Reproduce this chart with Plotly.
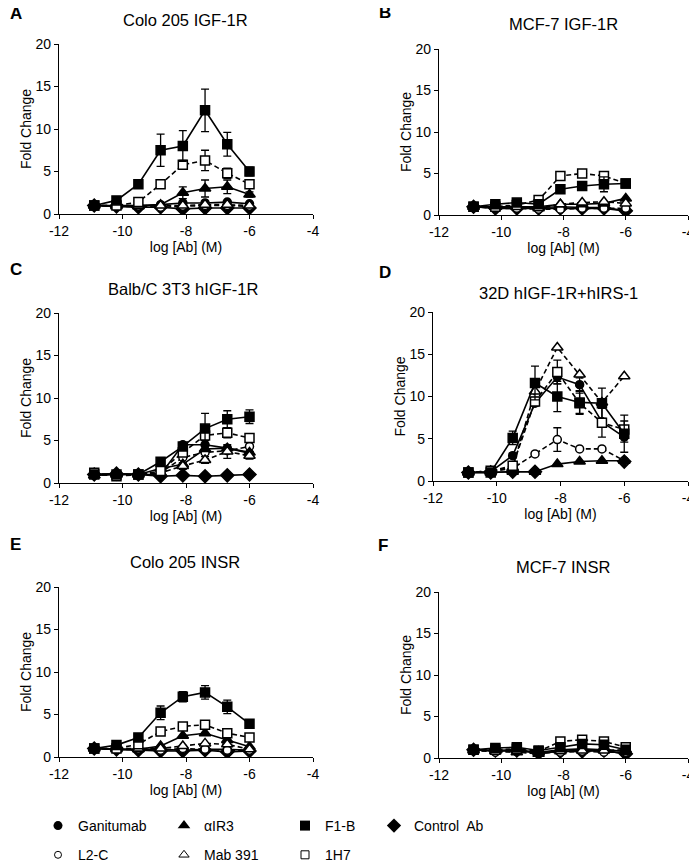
import plotly.graph_objects as go

# The page body has an 8px default margin; positions below are page pixels
OFF = 8
W, H = 689, 864
FONT = "Liberation Sans, Arial, sans-serif"

# log dose (M)
log_ab = [-10.89, -10.19, -9.50, -8.80, -8.10, -7.40, -6.70, -6.00]

series_names = ["Ganitumab", "L2-C", "αIR3", "Mab 391", "F1-B", "1H7", "Control  Ab"]

panel_titles = ["Colo 205 IGF-1R", "MCF-7 IGF-1R", "Balb/C 3T3 hIGF-1R",
                "32D hIGF-1R+hIRS-1", "Colo 205 INSR", "MCF-7 INSR"]
panel_letters = ["A", "B", "C", "D", "E", "F"]

x_ticks = [-12, -10, -8, -6, -4]
x_tick_labels = ["-12", "-10", "-8", "-6", "-4"]
y_ticks = [0, 5, 10, 15, 20]

# ---- Panel A: Colo 205 IGF-1R ----
A_gan = [1.0, 1.0, 1.0, 1.1, 1.3, 1.3, 1.4, 1.2]
A_l2c = [1.0, 0.9, 0.9, 0.8, 0.9, 1.0, 1.0, 0.9]
A_air3 = [1.0, 0.9, 0.9, 1.1, 2.5, 3.0, 3.2, 2.3]
A_mab = [1.0, 1.0, 1.0, 1.0, 1.0, 1.1, 1.1, 1.0]
A_f1b = [1.0, 1.6, 3.5, 7.5, 8.0, 12.2, 8.2, 5.0]
A_1h7 = [1.0, 1.0, 1.4, 3.5, 5.8, 6.3, 4.8, 3.5]
A_ctl = [1.0, 0.9, 0.8, 0.8, 0.6, 0.7, 0.7, 0.7]
A_err_f1b = [0, 0, 0, 1.9, 1.8, 2.5, 1.4, 0.5]
A_err_1h7 = [0, 0, 0, 0, 0.5, 1.2, 0.6, 0.3]
A_err_air3 = [0, 0, 0, 0, 0.7, 1.0, 0.8, 0.3]

# ---- Panel B: MCF-7 IGF-1R ----
B_gan = [1.0, 0.9, 0.9, 0.9, 1.0, 0.9, 0.9, 0.5]
B_l2c = [1.0, 0.8, 0.8, 0.7, 0.7, 0.8, 0.8, 0.8]
B_air3 = [1.0, 1.0, 1.0, 1.0, 1.3, 1.3, 1.4, 2.0]
B_mab = [1.0, 1.0, 1.0, 0.8, 1.3, 1.5, 1.6, 1.4]
B_f1b = [1.0, 1.3, 1.5, 1.3, 3.1, 3.5, 3.7, 3.8]
B_1h7 = [1.0, 1.0, 1.2, 1.8, 4.7, 5.0, 4.7, 3.8]
B_ctl = [1.0, 0.8, 0.8, 0.8, 0.8, 0.8, 0.8, 0.5]
B_err_f1b = [0, 0, 0, 0, 0.3, 0.3, 0.9, 0.3]
B_err_1h7 = [0, 0, 0, 0, 0.3, 0.3, 0.3, 0.3]

# ---- Panel C: Balb/C 3T3 hIGF-1R ----
C_gan = [1.0, 1.1, 1.0, 1.0, 4.5, 4.5, 4.1, 3.5]
C_l2c = [1.0, 0.9, 1.0, 1.2, 3.0, 3.6, 3.8, 4.3]
C_air3 = [0.9, 1.0, 1.0, 1.7, 2.2, 4.0, 4.1, 3.6]
C_mab = [0.9, 1.0, 1.0, 1.2, 2.0, 2.7, 3.7, 3.2]
C_f1b = [1.0, 1.0, 1.0, 2.5, 4.3, 6.4, 7.5, 7.8]
C_1h7 = [1.2, 0.8, 1.0, 1.4, 3.6, 5.6, 5.9, 5.3]
C_ctl = [1.0, 1.1, 1.0, 0.8, 0.9, 0.8, 0.9, 1.0]
C_err_f1b = [0, 0, 0, 0, 0.3, 1.8, 1.0, 0.8]
C_err_1h7 = [0, 0, 0, 0, 0.3, 0.6, 0.6, 0.5]
C_err_mab = [0, 0, 0, 0, 0.4, 0.4, 0.8, 0.4]

# ---- Panel D: 32D hIGF-1R+hIRS-1 ----
D_gan = [1.0, 1.1, 3.0, 9.2, 12.3, 11.4, 7.0, 5.2]
D_l2c = [1.0, 1.1, 1.5, 3.2, 4.9, 3.8, 3.8, 2.4]
D_air3 = [1.0, 1.0, 1.1, 1.1, 2.0, 2.3, 2.4, 2.4]
D_mab = [1.0, 1.2, 1.6, 10.6, 15.8, 12.6, 9.3, 12.4]
D_f1b = [1.0, 1.0, 5.1, 11.6, 10.0, 9.3, 9.2, 5.6]
D_1h7 = [1.0, 1.2, 1.8, 9.4, 12.9, 9.2, 6.9, 6.1]
D_ctl = [1.0, 1.0, 1.1, 1.1, None, None, None, 2.3]
D_err_f1b = [0, 0, 0.8, 2.0, 1.8, 1.4, 1.8, 2.2]
D_err_1h7 = [0, 0, 0, 0.5, 1.4, 1.2, 1.7, 1.0]
D_err_l2c = [0, 0, 0, 0, 1.4, 0, 0, 0]
D_err_gan = [0, 0, 0.3, 0, 0.8, 0.8, 0, 0.6]

# ---- Panel E: Colo 205 INSR ----
E_gan = [1.0, 0.9, 0.9, 0.9, 0.8, 0.9, 0.9, 0.8]
E_l2c = [1.0, 0.9, 0.9, 0.8, 1.0, 0.9, 0.8, 0.8]
E_air3 = [1.0, 0.9, 0.9, 1.3, 2.5, 2.8, 2.0, 1.2]
E_mab = [1.0, 1.0, 1.0, 1.0, 1.3, 1.6, 1.5, 0.9]
E_f1b = [1.0, 1.4, 2.3, 5.2, 7.1, 7.6, 5.9, 3.9]
E_1h7 = [1.0, 1.0, 1.5, 3.0, 3.6, 3.8, 2.8, 2.3]
E_ctl = [1.0, 0.9, 0.8, 0.7, 0.7, 0.8, 0.6, 0.7]
E_err_f1b = [0, 0, 0, 0.8, 0.6, 0.8, 0.8, 0.2]
E_err_1h7 = [0, 0, 0, 0, 0.2, 0.3, 0, 0]

# ---- Panel F: MCF-7 INSR ----
F_gan = [1.0, 0.8, 0.9, 0.6, 0.8, 0.9, 0.9, 0.5]
F_l2c = [1.0, 0.7, 0.8, 0.6, 0.7, 0.8, 0.7, 0.7]
F_air3 = [1.0, 0.9, 1.0, 0.7, 1.0, 1.1, 1.0, 0.8]
F_mab = [0.9, 0.8, 0.7, 0.5, 0.8, 0.9, 0.9, 1.0]
F_f1b = [1.0, 1.2, 1.3, 0.9, 1.3, 1.7, 1.6, 1.0]
F_1h7 = [1.0, 1.0, 1.1, 0.8, 2.0, 2.2, 2.0, 1.3]
F_ctl = [1.0, 0.9, 0.9, 0.6, 0.8, 0.8, 0.9, 0.5]

panels = [
    dict(vals=[A_gan, A_l2c, A_air3, A_mab, A_f1b, A_1h7, A_ctl],
         errs={2: A_err_air3, 4: A_err_f1b, 5: A_err_1h7}),
    dict(vals=[B_gan, B_l2c, B_air3, B_mab, B_f1b, B_1h7, B_ctl],
         errs={4: B_err_f1b, 5: B_err_1h7}),
    dict(vals=[C_gan, C_l2c, C_air3, C_mab, C_f1b, C_1h7, C_ctl],
         errs={3: C_err_mab, 4: C_err_f1b, 5: C_err_1h7}),
    dict(vals=[D_gan, D_l2c, D_air3, D_mab, D_f1b, D_1h7, D_ctl],
         errs={0: D_err_gan, 1: D_err_l2c, 4: D_err_f1b, 5: D_err_1h7}),
    dict(vals=[E_gan, E_l2c, E_air3, E_mab, E_f1b, E_1h7, E_ctl],
         errs={4: E_err_f1b, 5: E_err_1h7}),
    dict(vals=[F_gan, F_l2c, F_air3, F_mab, F_f1b, F_1h7, F_ctl],
         errs={}),
]

# style per series: symbol, filled?, dashed?, size
styles = [
    ("circle", True, False, 8),
    ("circle", False, True, 8),
    ("triangle-up", True, False, 10),
    ("triangle-up", False, True, 10),
    ("square", True, False, 9),
    ("square", False, True, 9),
    ("diamond", True, False, 10),
]

# page-pixel geometry of each panel: x-left, x-right, y at 0, y at 20
geom = [
    (59, 313, 214, 44),
    (439, 688, 215, 49),
    (59, 313, 483, 313),
    (433, 688, 481, 312),
    (59, 313, 757, 587),
    (439, 688, 758, 592),
]
title_pos = [(185, 20), (563, 24), (183, 289), (558, 293), (185, 562), (563, 567)]
letter_pos = [(8, 13), (377, 12), (8, 270), (377, 272), (8, 544), (376, 545)]


def px(x):
    return (x - OFF) / W


def py(y):
    return 1 - (y - OFF) / H


fig = go.Figure()
draw_order = [6, 0, 1, 2, 3, 5, 4]

for p, panel in enumerate(panels):
    xa = "x" if p == 0 else f"x{p+1}"
    ya = "y" if p == 0 else f"y{p+1}"
    for s in draw_order:
        sym, filled, dashed, size = styles[s]
        err = panel["errs"].get(s)
        fig.add_trace(go.Scatter(
            x=log_ab, y=panel["vals"][s], xaxis=xa, yaxis=ya,
            mode="lines+markers", showlegend=False, name=series_names[s],
            line=dict(color="black", width=1.6, dash="5px,3px" if dashed else "solid"),
            marker=dict(symbol=sym, size=size,
                        color="black" if filled else "white",
                        line=dict(color="black", width=1.5)),
            error_y=dict(type="data", array=err, visible=True, color="black",
                         thickness=1.3, width=4) if err else None,
        ))

# legend entries (4 legends laid out as columns)
legend_cols = [[0, 1], [2, 3], [4, 5], [6]]
legend_sym_x = [57, 183, 304, 393]
for c, col in enumerate(legend_cols):
    lname = "legend" if c == 0 else f"legend{c+1}"
    for s in col:
        sym, filled, dashed, size = styles[s]
        fig.add_trace(go.Scatter(
            x=[None], y=[None], mode="markers", name=series_names[s],
            legend=lname, legendgroup=f"g{s}", showlegend=True,
            marker=dict(symbol=sym, size=size + 1 if filled else size - 1,
                        color="black" if filled else "white",
                        line=dict(color="black", width=1 if not filled else 0)),
        ))

axis_common = dict(showgrid=False, zeroline=False, showline=True, linecolor="black",
                   linewidth=1.3, ticks="outside", ticklen=4, tickwidth=1.3,
                   tickcolor="black", automargin=False, ticklabeloverflow="allow",
                   tickfont=dict(size=14, color="black", family=FONT))

layout = dict(
    template="none",
    width=W, height=H, margin=dict(l=0, r=0, t=0, b=0, pad=0, autoexpand=False),
    paper_bgcolor="white", plot_bgcolor="white",
    font=dict(family=FONT, color="black"),
)

for p, (xl, xr, y0, y20) in enumerate(geom):
    xk = "xaxis" if p == 0 else f"xaxis{p+1}"
    yk = "yaxis" if p == 0 else f"yaxis{p+1}"
    xa = "x" if p == 0 else f"x{p+1}"
    ya = "y" if p == 0 else f"y{p+1}"
    layout[xk] = dict(axis_common, domain=[px(xl), px(xr)], range=[-12, -4],
                      tickvals=x_ticks, ticktext=x_tick_labels, anchor=ya,
                      title=dict(text="log [Ab] (M)", font=dict(size=14), standoff=4))
    layout[yk] = dict(axis_common, domain=[py(y0), py(y20)], range=[0, 20],
                      tickvals=y_ticks, anchor=xa,
                      title=dict(text="Fold Change", font=dict(size=14), standoff=0))

annotations = []
for p in range(6):
    tx, ty = title_pos[p]
    annotations.append(dict(text=panel_titles[p], x=px(tx), y=py(ty),
                            xref="paper", yref="paper", showarrow=False,
                            xanchor="center", yanchor="middle",
                            font=dict(size=16.5, color="black", family=FONT)))
    lx, ly = letter_pos[p]
    annotations.append(dict(text=f"<b>{panel_letters[p]}</b>", x=px(lx), y=py(ly),
                            xref="paper", yref="paper", showarrow=False,
                            xanchor="left", yanchor="middle",
                            font=dict(size=17, color="black", family=FONT)))
layout["annotations"] = annotations

for c in range(4):
    lname = "legend" if c == 0 else f"legend{c+1}"
    layout[lname] = dict(x=px(legend_sym_x[c] - 19), y=py(810), xanchor="left",
                         yanchor="top", orientation="v", bgcolor="rgba(0,0,0,0)",
                         borderwidth=0, tracegroupgap=8,
                         font=dict(size=14, color="black", family=FONT),
                         itemsizing="trace")

fig.update_layout(**layout)
fig.write_html("out.html")
